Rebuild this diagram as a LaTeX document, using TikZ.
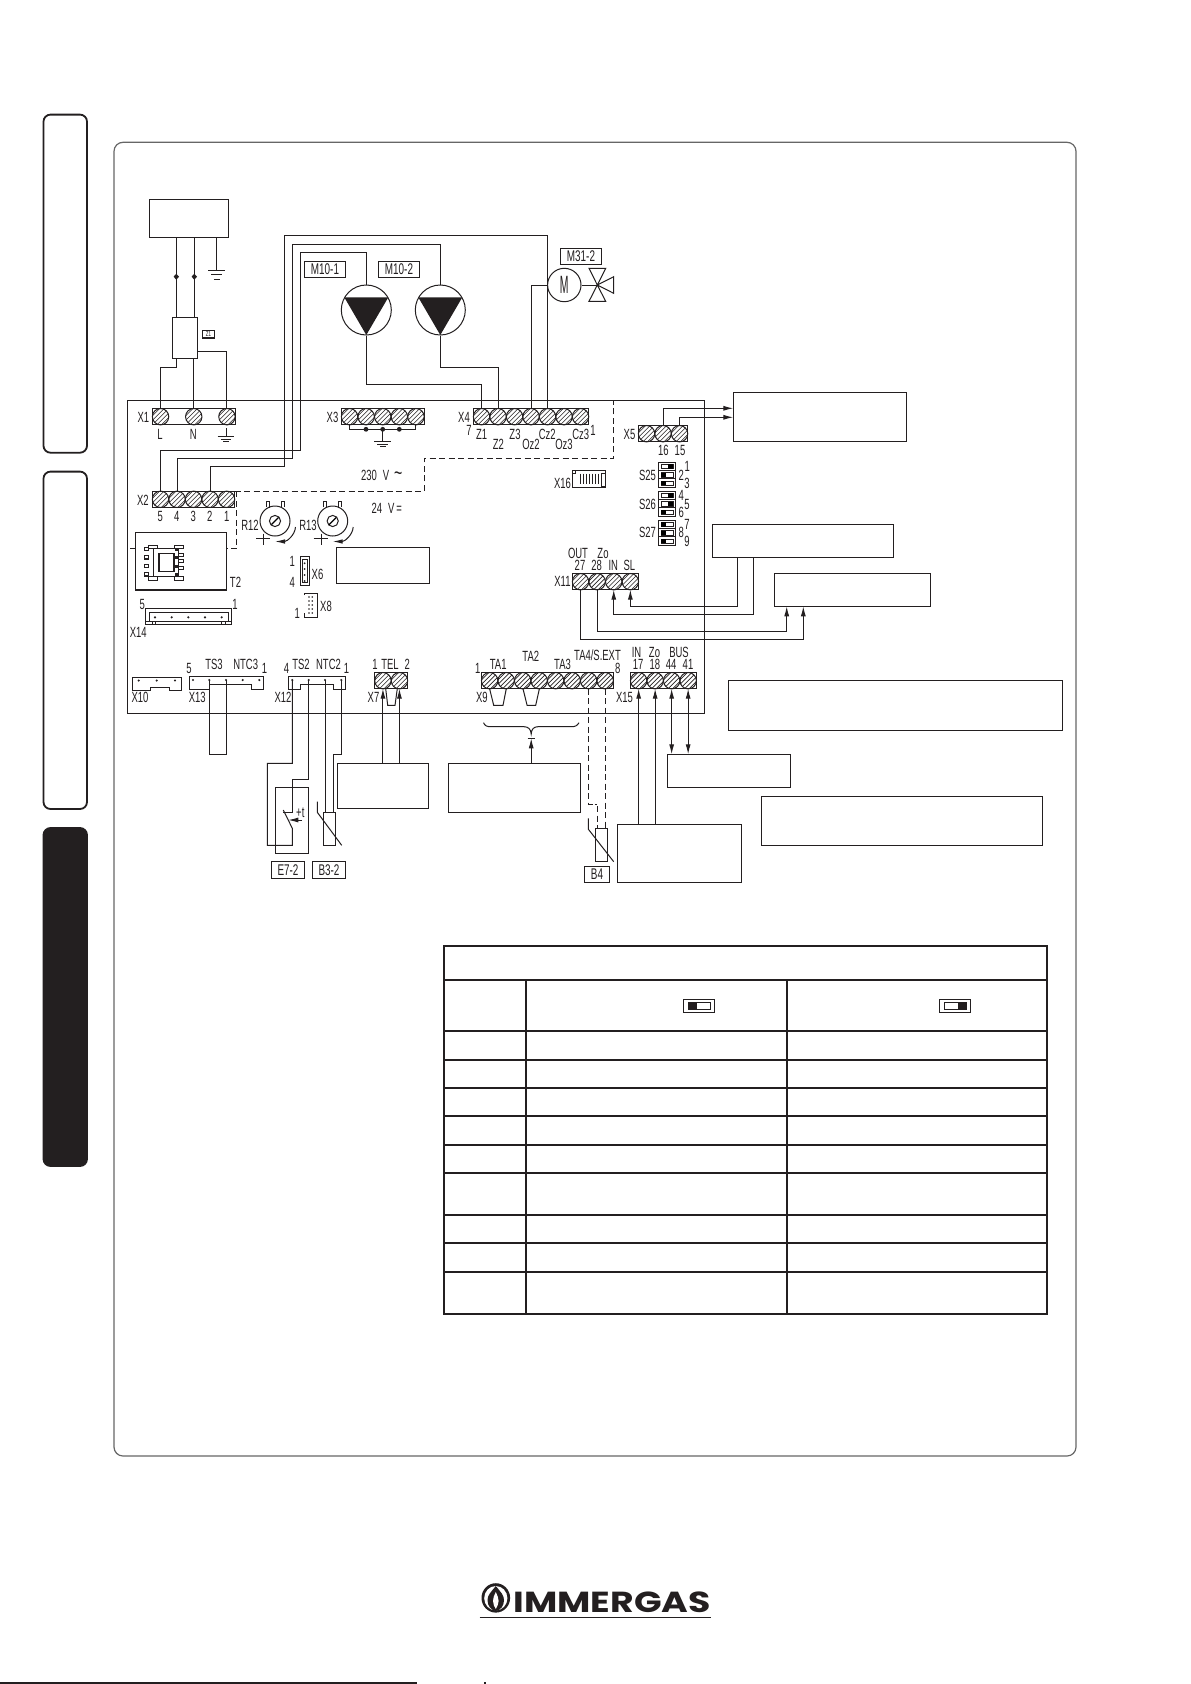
\documentclass[tikz,border=0pt]{standalone}
\usepackage{fontspec}
\usetikzlibrary{arrows.meta,fit,calc}
\newfontfamily\cad[FakeStretch=0.64]{Liberation Sans}
\newfontfamily\logofont[FakeStretch=1.25]{Poppins}
\definecolor{ink}{HTML}{231F20}
\newcount\lbc
\newcommand\lb[3]{\global\advance\lbc by 1 \node[txt] (lb\the\lbc) at (#1,#2) {#3};}
\newcommand\bx[5]{\node[bxs,fit={(#2,#3)(#4,#5)}] (#1) {};}
\newcommand\term[5]{%
 \pgfmathsetmacro\tw{16.5+(#4-1)*#5}%
 \node[wire,draw,inner sep=0,outer sep=0,minimum width=\tw pt,minimum height=16pt,anchor=north west] (#1) at (#2,#3) {};
 \foreach \i in {1,...,#4}{%
  \pgfmathsetmacro\cx{#2+8.25+(\i-1)*#5}%
  \pgfmathsetmacro\cy{#3+8}%
  \pgfmathsetmacro\cb{#3+16}%
  \coordinate (#1t\i) at (\cx,#3);
  \coordinate (#1b\i) at (\cx,\cb);
  \begin{scope}[shift={(\cx,\cy)}]
   \draw[wire] (0,0) circle[radius=8.2];
   \clip (0,0) circle[radius=8.2];
   \foreach \dd in {-9,-4.5,0,4.5,9} \draw[hatch] (\dd-9,9) -- (\dd+9,-9);
  \end{scope}
 }}
\newcommand\dip[3]{\foreach \sw [count=\k from 0] in {#3}{%
  \pgfmathsetmacro\yy{#2+\k*8.33}%
  \draw[wire] (#1,\yy) rectangle ++(17.4,8.33);
  \draw[hatch] (#1+2.6,\yy+2) rectangle ++(12.2,4.3);
  \ifnum\sw=0 \fill (#1+2.6,\yy+2) rectangle ++(5.4,4.3);
  \else \fill (#1+9.4,\yy+2) rectangle ++(5.4,4.3);\fi}}
\newcommand\gnd[3]{\draw[wire] (#1-8.3,#2) -- (#1+8.3,#2) (#1-5.5,#2+#3) -- (#1+5.5,#2+#3) (#1-2.8,#2+2*#3) -- (#1+2.8,#2+2*#3);}
\newcommand\rpot[3]{% name,x,y
 \node[circle,draw,wire,minimum size=30pt,inner sep=0] (#1) at (#2,#3) {};
 \draw[wire] (#2-9,#3-14) -- (#2-9,#3-19.5) -- (#2-6,#3-19.5) -- (#2-6,#3-13.5) (#2+6,#3-13.5) -- (#2+6,#3-19.5) -- (#2+9,#3-19.5) -- (#2+9,#3-14);
 \draw[wire] (#2,#3) circle[radius=5.6];
 \draw[line width=1.3pt] (#2-3.6,#3+3.6) -- (#2+3.6,#3-3.6);
 \draw[wire] (#2-19,#3+17.5) -- (#2-5,#3+17.5) (#2-11.7,#3+12.5) -- (#2-11.7,#3+24);
 \draw[wire,-{Latex[length=10pt,width=4.5pt]}] (#2+20.5,#3+6) .. controls (#2+20,#3+14) and (#2+12,#3+20.5) .. (#2,#3+20.5);
}
\tikzset{
 wire/.style={line width=1pt,draw=ink},
 hatch/.style={line width=0.55pt,draw=ink},
 bxs/.style={draw=ink,line width=1.1pt,inner sep=0,outer sep=0},
 txt/.style={font=\cad\fontsize{14.8}{15}\selectfont,text=ink,inner sep=0},
 lbbox/.style={draw=ink,line width=1.1pt,font=\cad\fontsize{15.5}{16}\selectfont,text=ink,inner sep=0,minimum height=16.3pt},
 arr/.style={wire,-{Latex[length=10pt,width=5pt]}},
 darr/.style={wire,{Latex[length=10pt,width=5pt]}-{Latex[length=10pt,width=5pt]}},
 dash5/.style={line width=1pt,draw=ink,dash pattern=on 6pt off 3.5pt},
 tab/.style={draw=ink,line width=1.8pt,rounded corners=7pt},
 gridl/.style={draw=ink,line width=2pt},
}
\begin{document}
\begin{tikzpicture}[x=1pt,y=-1pt]
\useasboundingbox (0,0) rectangle (1191,1684);
\fill[white] (0,0) rectangle (1191,1684);
% side tabs
\draw[tab] (43.5,114.6) rectangle (87,452.7);
\draw[tab] (43.5,471.6) rectangle (87,809);
\draw[tab,fill=ink] (43.5,828) rectangle (87,1166);
% frame
\draw[draw=black!60,line width=1.2pt,rounded corners=9pt] (114,142.3) rectangle (1076,1456);
% board
\bx{board}{127.3}{400.3}{704.5}{713.3}
% top box and filter
\bx{top}{149.3}{199.3}{228.3}{237.3}
\bx{flt}{172.7}{317.3}{197.7}{358.3}
\node[lbbox,minimum width=12.4pt,minimum height=7.3pt,font=\cad\fontsize{7}{7}\selectfont] (z1) at (208.5,334.3) {Z1};
\coordinate (w1) at (176.3,237.3);
\coordinate (w2) at (194.3,237.3);
\coordinate (w3) at (216.7,237.3);
\coordinate (g3) at (216.7,270.3);
\draw[wire] (w1) -- (w1 |- flt.north);
\draw[wire] (w2) -- (w2 |- flt.north);
\draw[wire] (w3) -- (g3);
\gnd{216.7}{270.3}{4.4}
\fill[ink] (176.3,273.7) -- (179,276.7) -- (176.3,279.7) -- (173.6,276.7) -- cycle;
\fill[ink] (194.3,273.7) -- (197,276.7) -- (194.3,279.7) -- (191.6,276.7) -- cycle;
% terminals
\term{Xa}{152.3}{408.7}{3}{33.2}
\term{Xc}{341.3}{408.7}{5}{16.6}
\term{Xd}{473.3}{408.7}{7}{16.5}
\term{Xb}{152.3}{491.3}{5}{16.5}
\term{Xe}{638.3}{425.7}{3}{16.5}
\term{Xk}{572.3}{573.7}{4}{16.6}
\term{Xg}{374.7}{672.7}{2}{16.5}
\term{Xi}{481.4}{672.7}{8}{16.5}
\term{Xo}{630.4}{672.7}{4}{16.5}
% wires X1
\draw[wire] (w1 |- flt.south) -- (w1 |- 0,367.3) -| (Xat1);
\draw[wire] (Xat2 |- flt.south) -- (Xat2);
\draw[wire] (flt.east |- 0,351.3) -| (Xat3);
% X1 ground label
\coordinate (g1) at (226,428.3);
\draw[wire] (g1) -- (226,436.7);
\draw[wire] (217.7,436.7) -- (234.3,436.7) (220.7,439.3) -- (231.3,439.3) (223.2,441.7) -- (228.8,441.7);
% X3 bus
\draw[wire] (349.3,425.3) -- (349.3,429.3) -- (415.7,429.3) -- (415.7,425.3);
\foreach \px in {366,382.7,399.3} \fill[ink] (\px,429.3) circle[radius=2.4];
\draw[wire] (382.7,429.3) -- (382.7,441.7);
\draw[wire] (374.4,441.7) -- (391,441.7) (377.2,444) -- (388.2,444) (379.9,446.4) -- (385.5,446.4);
% pumps
\node[circle,draw=ink,line width=1pt,minimum size=50pt,inner sep=0] (pa) at (366.3,310) {};
\node[circle,draw=ink,line width=1pt,minimum size=50pt,inner sep=0] (pb) at (440.3,310) {};
\fill[ink] (344.3,297.3) -- (388.3,297.3) -- (366.3,335) -- cycle;
\fill[ink] (418.3,297.3) -- (462.3,297.3) -- (440.3,335) -- cycle;
\node[circle,draw=ink,line width=1pt,minimum size=33.4pt,inner sep=0,font=\cad\fontsize{25}{25}\selectfont,text=ink] (mot) at (564.3,285) {\scalebox{0.65}[1]{M}};
\node[lbbox,minimum width=41.4pt] (lma) at (325,269.3) {M10-1};
\node[lbbox,minimum width=41.4pt] (lmb) at (399,269.3) {M10-2};
\node[lbbox,minimum width=40.6pt] (lmc) at (581,256.3) {M31-2};
% valve
\coordinate (vc) at (597.3,285);
\draw[wire] (mot.east) -- (vc);
\draw[wire] (vc) -- (589,268.3) -- (605.7,268.3) -- (vc) -- (589,301.3) -- (605.7,301.3) -- (vc) -- (613.7,276.7) -- (613.7,293.3) -- cycle;
% connectors to pumps
\draw[wire] (pa.south) -- (pa.south |- 0,384) -| (Xdt1);
\draw[wire] (pb.south) -- (pb.south |- 0,367.3) -| (Xdt2);
\draw[wire] (Xdt4) |- (mot.west);
\draw[wire] (Xdt5) -- (Xdt5 |- 0,235.3) -- (284.3,235.3) -- (284.3,466.3) -| (Xbt4);
\draw[wire] (pb.north) -- (pb.north |- 0,244) -- (292.3,244) -- (292.3,458.3) -| (Xbt2);
\draw[wire] (pa.north) -- (pa.north |- 0,252) -- (300.3,252) -- (300.3,450.3) -| (Xbt1);
% dashed limit
\draw[dash5] (234.7,491.3) -- (424.3,491.3) -- (424.3,458.3) -- (613.7,458.3) -- (613.7,400.3);
\draw[dash5] (236.7,491.3) -- (236.7,548.3) -- (226.7,548.3);
% labels board
\lb{143.3}{417.3}{X1}\lb{332.5}{417.3}{X3}\lb{464}{417.3}{X4}\lb{142.8}{500}{X2}
\lb{160}{434}{L}\lb{193.3}{434}{N}
\lb{469}{430}{7}\lb{481.7}{434}{Z1}\lb{498.3}{444}{Z2}\lb{515}{434}{Z3}\lb{531}{444}{Oz2}\lb{547.3}{434}{Cz2}\lb{564}{444}{Oz3}\lb{580.7}{434}{Cz3}\lb{593}{430}{1}
\lb{160.3}{516.7}{5}\lb{176.7}{516.7}{4}\lb{193.3}{516.7}{3}\lb{209.7}{516.7}{2}\lb{226.7}{516.7}{1}
\lb{381.7}{475}{230\hspace{6pt}V\hspace{5pt}{\fontsize{22}{22}\selectfont\char`\~}}
\lb{386.7}{508.3}{24\hspace{6pt}V\hspace{2pt}=}
% transformer
\bx{tr}{135.7}{532.3}{226.7}{590}
\coordinate (tl) at (130,548.3);
\draw[wire] (tl) -- (tr.west |- tl);
\draw[wire] (153.3,548.3) rectangle (178.3,576.7);
\draw[line width=1.8pt,draw=ink] (159,553.5) rectangle (174,571.5);
\draw[wire] (148.3,545) rectangle (157.3,548.3) (148.3,576.7) rectangle (157.3,580) (174.3,545) rectangle (183.3,548.3) (174.3,576.7) rectangle (183.3,580);
\foreach \py in {549,557.3,566,574.3} \draw[line width=1.2pt,draw=ink] (144.3,\py-1.6) rectangle (148.3,\py+1.6);
\foreach \py in {555,561,567.5} \draw[hatch] (178.3,\py-1.5) rectangle (183,\py+1.5);
\foreach \py in {549,557.3,566,574.3} \fill[ink] (175,\py-1.5) rectangle (178,\py+1.5);
\lb{235.5}{582.7}{T2}
% potentiometers
\rpot{ra}{275}{521}
\rpot{rb}{332.7}{521}
\lb{250}{525}{R12}\lb{308}{525}{R13}
\bx{bmid}{336.7}{547.7}{429.3}{583.7}
% X6 X8
\draw[wire] (300,556.7) rectangle (309.3,585);
\draw[hatch] (302.5,559) -- (302.5,582.5) -- (306.8,582.5) -- (306.8,559) -- cycle;
\foreach \py in {563.3,569,575,581} \fill[ink] (304.6,\py) circle[radius=1];
\lb{292.3}{561.7}{1}\lb{292.3}{582.3}{4}\lb{317.5}{574}{X6}
\draw[wire] (304.3,595) -- (304.3,593.7) -- (317.7,593.7) -- (317.7,617) -- (304.3,617) -- (304.3,613);
\foreach \py in {597,601,605,609,613} {\fill[ink] (309,\py) circle[radius=0.9]; \fill[ink] (312.3,\py) circle[radius=0.9];}
\lb{326}{606.7}{X8}\lb{297.3}{613.3}{1}
% X14
\draw[wire] (145.7,608.3) rectangle (231.7,624.3);
\draw[wire] (149,612.3) -- (228.5,612.3) (149,612.3) -- (149,621) (228.5,612.3) -- (228.5,621) (145.7,621) -- (231.7,621);
\foreach \px in {155,171.7,188.3,205,221.7} \fill[ink] (\px,617.3) circle[radius=1.2];
\draw[hatch] (152.3,621) -- (152.3,624.3) (155.7,621) -- (155.7,624.3) (221.7,621) -- (221.7,624.3) (225,621) -- (225,624.3);
\lb{142.3}{604}{5}\lb{235}{604}{1}\lb{138.3}{632}{X14}
% X16
\draw[wire] (572.3,470.7) rectangle (605.7,487.3);
\draw[hatch] (572.3,473.5) -- (575,473.5) -- (575,470.7);
\draw[hatch] (601.7,473) rectangle (605.7,486);
\foreach \px in {580,583,586,589,592,595,598} \draw[line width=0.8pt,draw=ink] (\px,473.5) -- (\px,484);
\lb{562.5}{483.3}{X16}
% X5
\lb{629.5}{434}{X5}\lb{663.3}{450}{16}\lb{680}{450}{15}
\bx{bxe}{733.3}{392.3}{906.7}{441.3}
\draw[arr] (Xet2) |- (bxe.west |- 0,408.3);
\draw[arr] (Xet3) |- (bxe.west |- 0,417.3);
% DIP
\dip{658.3}{462.3}{1,0,0}
\dip{658.3}{491.3}{1,1,0}
\dip{658.3}{520.3}{0,0,0}
\lb{647.5}{475}{S25}\lb{687.3}{466.7}{1}\lb{681.2}{475.3}{2}\lb{687}{483.3}{3}
\lb{647.5}{504.3}{S26}\lb{681.2}{495.7}{4}\lb{687}{504}{5}\lb{681.2}{512.3}{6}
\lb{647.5}{532.7}{S27}\lb{687}{524}{7}\lb{681.2}{532.7}{8}\lb{687}{541}{9}
% X11
\lb{578}{553}{OUT}\lb{603}{553}{Zo}\lb{580}{565}{27}\lb{596.7}{565}{28}\lb{613.3}{565}{IN}\lb{629.3}{565}{SL}\lb{562.5}{581.7}{X11}
\bx{bxk}{712.3}{524.3}{893.7}{557.3}
\bx{bxl}{774.3}{573.3}{930.7}{606.3}
\coordinate (ka) at (737.3,557.3);
\coordinate (kb) at (753.7,557.3);
\coordinate (la) at (786.7,606.3);
\coordinate (lb) at (803.3,606.3);
\draw[arr] (ka) -- (ka |- 0,606.3) -| (Xkb4);
\draw[arr] (kb) -- (kb |- 0,614.3) -| (Xkb3);
\draw[arr] (Xkb2) -- (Xkb2 |- 0,631.3) -| (la);
\draw[arr] (Xkb1) -- (Xkb1 |- 0,639.3) -| (lb);
% X10 X13 X12
\draw[wire] (132.3,677.3) -- (181.7,677.3) -- (181.7,690.3) -- (169,690.3) -- (169,687.3) -- (150.7,687.3) -- (150.7,690.3) -- (132.3,690.3) -- cycle;
\foreach \px in {138.7,156.7,175} \fill[ink] (\px,680.5) circle[radius=1.2];
\lb{140}{697.3}{X10}
\draw[wire] (189.3,676.7) -- (263.7,676.7) -- (263.7,689.3) -- (251,689.3) -- (251,684.3) -- (209.3,684.3) -- (209.3,689.3) -- (189.3,689.3) -- cycle;
\foreach \px in {193,209.3,226,242.7,259.3} \fill[ink] (\px,680) circle[radius=1.2];
\coordinate (ma) at (209.3,680);
\coordinate (mb) at (226,680);
\draw[wire] (ma) -- (209.3,754.3) -- (226,754.3) -- (mb);
\lb{189}{668.3}{5}\lb{214}{664.3}{TS3}\lb{245.7}{664.3}{NTC3}\lb{264.5}{668.3}{1}\lb{197.3}{697.3}{X13}
\draw[wire] (288.3,676.7) -- (345.7,676.7) -- (345.7,689.3) -- (333.3,689.3) -- (333.3,684) -- (300.7,684) -- (300.7,689.3) -- (288.3,689.3) -- cycle;
\coordinate (na) at (292.3,680);
\coordinate (nb) at (308.7,680);
\coordinate (nc) at (325,680);
\coordinate (nd) at (341.3,680);
\foreach \pt in {na,nb,nc,nd} \fill[ink] (\pt) circle[radius=1.2];
\lb{286.5}{668.3}{4}\lb{301}{664.3}{TS2}\lb{328.5}{664.3}{NTC2}\lb{346.5}{668.3}{1}\lb{283}{697.3}{X12}
% E7-2
\bx{ebox}{275.3}{787.3}{308.7}{853.3}
\draw[wire] (na) -- (292.3,763.3) -- (267.3,763.3) -- (267.3,845.3) -- (292.3,845.3) -- (292.3,828.3) -- (283.3,810);
\draw[wire] (nb) -- (308.7,779.3) -- (292.3,779.3) -- (292.3,812.3) -- (283.3,812.3);
\draw[arr] (302,820) -- (288.3,820);
\lb{300.3}{812.7}{+t}
\node[lbbox,minimum width=33.4pt] (le) at (288,870) {E7-2};
% B3-2
\bx{sb}{323.3}{812.3}{335.3}{845.3}
\draw[wire] (nc) -- (sb.north -| nc);
\draw[wire] (nd) -- (341.3,754.3) -- (333.3,754.3) -- (333.3,812.3);
\draw[wire] (317.3,801.7) -- (317.3,812.3) -- (341.7,845.3);
\node[lbbox,minimum width=33.4pt] (lbt) at (329,870) {B3-2};
% X7
\lb{375}{664.3}{1}\lb{390}{664.3}{TEL}\lb{407.3}{664.3}{2}\lb{373.5}{697.3}{X7}
\draw[wire] (385.7,688.7) -- (387.7,705.3) -- (395,705.3) -- (397.3,688.7);
\bx{bxg}{337.3}{763.3}{428.3}{808.3}
\draw[arr] (Xgb1 |- bxg.north) -- (Xgb1);
\draw[arr] (Xgb2 |- bxg.north) -- (Xgb2);
% X9
\lb{477.8}{668.3}{1}\lb{498.2}{664.3}{TA1}\lb{530.8}{656}{TA2}\lb{562.5}{664.6}{TA3}\lb{597.5}{655.5}{TA4/S.EXT}\lb{617.8}{668.3}{8}\lb{481.8}{697.3}{X9}
\draw[wire] (489.6,688.7) -- (493.7,705.3) -- (503,705.3) -- (506.3,688.7);
\draw[wire] (523,688.7) -- (527.1,705.3) -- (535.7,705.3) -- (539.4,688.7);
\draw[wire] (483.5,722.7) .. controls (485,726) and (487,726.7) .. (491,726.7) -- (524,726.7) .. controls (528,726.7) and (531,729) .. (531.2,734) .. controls (531.4,729) and (534,726.7) .. (538,726.7) -- (571,726.7) .. controls (575,726.7) and (577,726) .. (579,722.7);
\coordinate (tbar) at (531.2,738.3);
\draw[wire] (527.7,738.3) -- (534.7,738.3);
\bx{bxi}{448.3}{763.3}{580.7}{812.3}
\draw[arr] (tbar |- bxi.north) -- (tbar);
% B4
\bx{sc}{595.3}{828.3}{607.6}{861.7}
\draw[dash5] (Xib7) -- (Xib7 |- 0,804) -- (594.5,804);
\draw[wire] (594.5,804) -- (597.3,804);
\draw[dash5] (597.3,806) -- (597.3,828.3);
\draw[dash5] (Xib8) -- (Xib8 |- sc.north);
\draw[wire] (588.4,818.3) -- (588.4,829.3) -- (613.7,861.7);
\node[lbbox,minimum width=25.3pt] (lbf) at (597,874.3) {B4};
% X15
\lb{636.5}{652.3}{IN}\lb{654.5}{652.3}{Zo}\lb{679}{652.3}{BUS}\lb{638.2}{664.3}{17}\lb{654.9}{664.3}{18}\lb{671.2}{664.3}{44}\lb{688}{664.3}{41}\lb{624.5}{697.3}{X15}
\bx{bxo}{617.8}{824.3}{741.4}{882.3}
\bx{bxp}{667.6}{754.3}{790.4}{787.3}
\bx{bxq}{728.4}{680.3}{1062.7}{730.3}
\bx{bxr}{761.4}{796.3}{1042.7}{845.7}
\draw[arr] (Xob1 |- bxo.north) -- (Xob1);
\draw[arr] (Xob2 |- bxo.north) -- (Xob2);
\draw[darr] (Xob3 |- bxp.north) -- (Xob3);
\draw[darr] (Xob4 |- bxp.north) -- (Xob4);
% table
\draw[gridl] (444,945.7) rectangle (1046.7,1314);
\foreach \ry in {980,1030.7,1060,1088,1116,1145,1173,1215,1243,1272} \draw[gridl] (444,\ry) -- (1046.7,\ry);
\draw[gridl] (525.6,980) -- (525.6,1314) (786.8,980) -- (786.8,1314);
\draw[line width=1pt,draw=ink] (683.5,999.3) rectangle (714.5,1012.7);
\draw[line width=1pt,draw=ink] (688,1002) rectangle (710.4,1009.3);
\fill[ink] (688,1002) rectangle (697.2,1009.3);
\draw[line width=1pt,draw=ink] (939.4,999.3) rectangle (970.4,1012.7);
\draw[line width=1pt,draw=ink] (944.3,1002) rectangle (966,1009.3);
\fill[ink] (958,1002) rectangle (966,1009.3);
% logo
\fill[ink] (495.8,1597.9) ellipse[x radius=14.3,y radius=14.7];
\fill[white] (495.8,1598.2) ellipse[x radius=11.6,y radius=12.2];
\fill[ink] (495.8,1586) .. controls (491,1592) and (487.5,1595) .. (487.5,1600) .. controls (487.5,1606) and (491,1610) .. (495.8,1611) .. controls (500.6,1610) and (504,1606) .. (504,1600) .. controls (504,1595) and (500.6,1592) .. (495.8,1586) -- cycle;
\fill[white] (495.8,1592) .. controls (494,1596) and (493,1598) .. (493,1601) .. controls (493,1604) and (494.5,1607) .. (495.8,1609) .. controls (497,1607) and (498.6,1604) .. (498.6,1601) .. controls (498.6,1598) and (497.5,1596) .. (495.8,1592) -- cycle;
\node[anchor=base west,inner sep=0,text=ink,font=\logofont\bfseries\fontsize{29}{29}\selectfont] (logo) at (513.5,1612) {IMMERGAS};
\coordinate (ula) at (479.6,1617.3);
\coordinate (ulb) at (710.7,1617.3);
\draw[wire] (ula) -- (ulb);
% foot
\coordinate (fa) at (0,1683.2);
\coordinate (fb) at (417,1683.2);
\draw[draw=ink,line width=1.5pt] (fa) -- (fb);
\fill[ink] (484.4,1682.4) rectangle (486,1684);
\end{tikzpicture}
\end{document}
